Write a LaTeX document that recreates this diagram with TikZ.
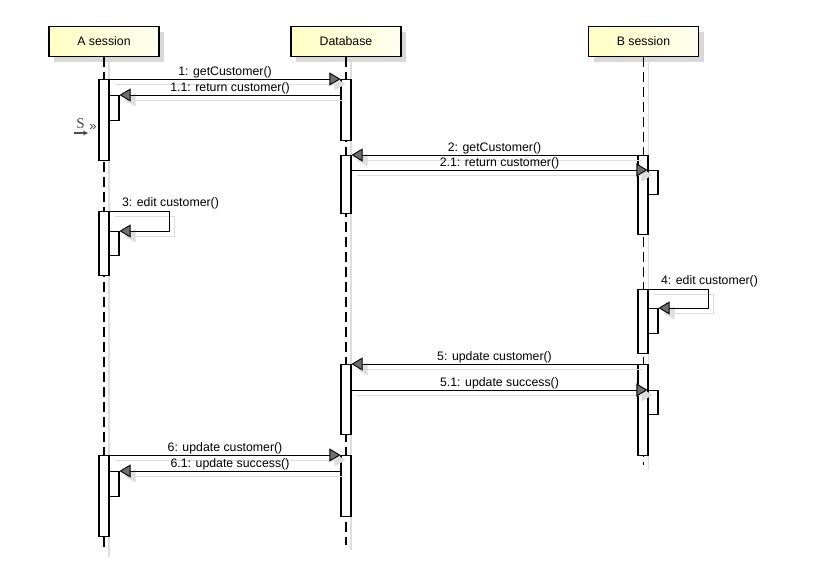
\documentclass[tikz,border=0pt]{standalone}
\usepackage{fontspec}
\setmainfont{Liberation Sans}
\newfontfamily\serifS{Liberation Serif}
\usetikzlibrary{arrows.meta,shadows,calc}
\definecolor{yellowL}{RGB}{255,255,196}
\definecolor{yellowR}{RGB}{255,255,240}
\definecolor{shadowgray}{RGB}{216,216,216}
\definecolor{lineshadow}{RGB}{222,222,222}
\definecolor{tipgray}{RGB}{110,110,110}
\begin{document}
\begin{tikzpicture}[x=1pt,y=-1pt,
  font=\fontsize{12.3}{14}\selectfont,
  head/.style={draw=black, line width=1.8pt, minimum width=110pt, minimum height=30pt, inner sep=0pt,
    left color=yellowL, right color=yellowR,
    drop shadow={shadow xshift=5pt, shadow yshift=-5pt, fill=shadowgray, opacity=1}},
  lifeline/.style={draw=black, line width=1.1pt, dash pattern=on 10pt off 5pt},
  lifeshadow/.style={draw=lineshadow, line width=1.3pt},
  bar/.style={draw=black, fill=white, line width=1.1pt, minimum width=10pt, inner sep=0pt, anchor=north},
  msg/.style={draw=black, line width=0.9pt, -{Triangle[length=11pt,width=13pt,fill=tipgray]}},
  msgsh/.style={draw=lineshadow, line width=0.9pt, -{Triangle[length=11pt,width=13pt,fill=lineshadow]}},
  lbl/.style={above, inner sep=0.3pt}
]
\useasboundingbox (0,0) rectangle (827,560);

% headers
\node[head] (ha) at (104,41.5) {A session};
\node[head] (hd) at (346,41.5) {Database};
\node[head] (hb) at (643.5,41.5) {B session};

% lifeline ends
\coordinate (aend) at (104,552);
\coordinate (dend) at (346,545);
\coordinate (bend) at (643.5,465);

% lifeline shadows
\draw[lifeshadow] ([xshift=5pt,yshift=-5pt]ha.south) -- ([xshift=5pt,yshift=-5pt]aend);
\draw[lifeshadow] ([xshift=5pt,yshift=-5pt]hd.south) -- ([xshift=5pt,yshift=-5pt]dend);
\draw[lifeshadow] ([xshift=5pt,yshift=-5pt]hb.south) -- ([xshift=5pt,yshift=-5pt]bend);

% lifelines
\draw[lifeline] (ha.south) -- (aend);
\draw[lifeline] (hd.south) -- (dend);
\draw[lifeline] (hb.south) -- (bend);

% activation bars: A session
\node[bar, minimum height=81pt] (a1) at (104,79) {};
\node[bar, minimum height=25pt] (a1n) at (114,95) {};
\node[bar, minimum height=64pt] (a2) at (104,211) {};
\node[bar, minimum height=24pt] (a2n) at (114,231) {};
\node[bar, minimum height=81pt] (a3) at (104,455) {};
\node[bar, minimum height=25pt] (a3n) at (114,471) {};
% Database
\node[bar, minimum height=61pt] (d1) at (346,79) {};
\node[bar, minimum height=58pt] (d2) at (346,155) {};
\node[bar, minimum height=70pt] (d3) at (346,364) {};
\node[bar, minimum height=61pt] (d4) at (346,455) {};
% B session
\node[bar, minimum height=79pt] (b1) at (643,155) {};
\node[bar, minimum height=24pt] (b1n) at (653,170) {};
\node[bar, minimum height=64pt] (b2) at (643,289) {};
\node[bar, minimum height=25pt] (b2n) at (653,308) {};
\node[bar, minimum height=91pt] (b3) at (643,364) {};
\node[bar, minimum height=24pt] (b3n) at (653,390) {};

% message shadows
\draw[msgsh] ([shift={(5,5)}]a1.north east) -- ([shift={(5,5)}]d1.north west);
\draw[msgsh] ([shift={(5,5)}]d1.west |- a1n.north) -- ([shift={(5,5)}]a1n.north east);
\draw[msgsh] ([shift={(5,5)}]b1.north west) -- ([shift={(5,5)}]d2.north east);
\draw[msgsh] ([shift={(5,5)}]d2.east |- b1n.north) -- ([shift={(5,5)}]b1n.north west);
\draw[msgsh] ([shift={(5,5)}]a2.north east) -- ++(60,0) |- ([shift={(5,5)}]a2n.north east);
\draw[msgsh] ([shift={(5,5)}]b2.north east) -- ++(60,0) |- ([shift={(5,5)}]b2n.north east);
\draw[msgsh] ([shift={(5,5)}]b3.north west) -- ([shift={(5,5)}]d3.north east);
\draw[msgsh] ([shift={(5,5)}]d3.east |- b3n.north) -- ([shift={(5,5)}]b3n.north west);
\draw[msgsh] ([shift={(5,5)}]a3.north east) -- ([shift={(5,5)}]d4.north west);
\draw[msgsh] ([shift={(5,5)}]d4.west |- a3n.north) -- ([shift={(5,5)}]a3n.north east);

% messages
\draw[msg] (a1.north east) -- node[lbl] (m1) {1: getCustomer()} (d1.north west);
\draw[msg] (d1.west |- a1n.north) -- node[lbl] (m11) {1.1: return customer()} (a1n.north east);
\draw[msg] (b1.north west) -- node[lbl] (m2) {2: getCustomer()} (d2.north east);
\draw[msg] (d2.east |- b1n.north) -- node[lbl] (m21) {2.1: return customer()} (b1n.north west);
\draw[msg] (a2.north east) -- ++(60,0) |- (a2n.north east);
\node[anchor=south west, inner sep=0.3pt] (m3) at ($(a2.north east)+(12,-1)$) {3: edit customer()};
\draw[msg] (b2.north east) -- ++(60,0) |- (b2n.north east);
\node[anchor=south west, inner sep=0.3pt] (m4) at ($(b2.north east)+(12,-1)$) {4: edit customer()};
\draw[msg] (b3.north west) -- node[lbl] (m5) {5: update customer()} (d3.north east);
\draw[msg] (d3.east |- b3n.north) -- node[lbl] (m51) {5.1: update success()} (b3n.north west);
\draw[msg] (a3.north east) -- node[lbl] (m6) {6: update customer()} (d4.north west);
\draw[msg] (d4.west |- a3n.north) -- node[lbl] (m61) {6.1: update success()} (a3n.north east);

% small S icon
\node[inner sep=0pt, text=black!70] (sicon) at (80.5,123.5) {\serifS\fontsize{15}{15}\selectfont S};
\coordinate (sarr1) at (74,133);
\coordinate (sarr2) at (88,133);
\draw[black!70, line width=1.1pt, -{Stealth[length=5pt,width=5pt]}] (sarr1) -- (sarr2);
\node[inner sep=0pt, text=black!75] (sgt) at (93,128) {\fontsize{13}{13}\selectfont »};
\end{tikzpicture}
\end{document}
